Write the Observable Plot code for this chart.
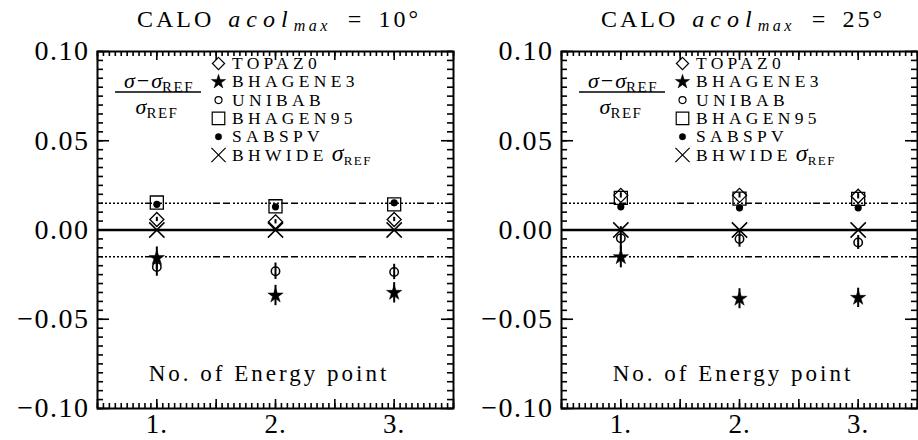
<!DOCTYPE html>
<html><head><meta charset="utf-8">
<script src="https://cdn.jsdelivr.net/npm/d3@7"></script>
<script src="https://cdn.jsdelivr.net/npm/@observablehq/plot@0.6"></script>
<style>
body{margin:0;background:#fff}
#wrap{position:relative;width:918px;height:440px;overflow:hidden}
.panel{position:absolute;top:0}
</style>
</head><body><div id="wrap"></div>
<script>
// ---- data ----
const energyPoints = [1, 2, 3];
const xTickLabels = ["1.", "2.", "3."];
const yMajorTicks = [-0.10, -0.05, 0.00, 0.05, 0.10];
const bandLevels = [-0.015, 0.015];
const generators = ["TOPAZ0", "BHAGENE3", "UNIBAB", "BHAGEN95", "SABSPV", "BHWIDE"];

// CALO acol_max = 10 deg
const topaz10 = [0.0059, 0.0046, 0.0059];
const topaz10Err = [0.0012, 0.0012, 0.0012];
const bhagene3_10 = [-0.0157, -0.0367, -0.0352];
const bhagene3_10Err = [0.0062, 0.0057, 0.0057];
const unibab10 = [-0.0207, -0.0231, -0.0235];
const unibab10Err = [0.0052, 0.0046, 0.0043];
const bhagen95_10 = [0.0154, 0.0133, 0.0144];
const sabspv10 = [0.0144, 0.0130, 0.0152];
const bhwide10 = [0, 0, 0];

// CALO acol_max = 25 deg
const topaz25 = [0.0194, 0.0194, 0.0189];
const topaz25Err = [0.0015, 0.0015, 0.0015];
const bhagene3_25 = [-0.0152, -0.0385, -0.0380];
const bhagene3_25Err = [0.0060, 0.0056, 0.0054];
const unibab25 = [-0.0046, -0.0050, -0.0070];
const unibab25Err = [0.0065, 0.0046, 0.0039];
const bhagen95_25 = [0.0180, 0.0176, 0.0174];
const sabspv25 = [0.0130, 0.0124, 0.0124];
const bhwide25 = [0, 0, 0];

const symbols = {TOPAZ0: "diamond2", BHAGENE3: "star", UNIBAB: "circle", BHAGEN95: "square2", SABSPV: "circle", BHWIDE: "times"};

const panels = [
  {acol: "10", left: 0, marginLeft: 97, marginRight: 6,
   series: {TOPAZ0: [topaz10, topaz10Err], BHAGENE3: [bhagene3_10, bhagene3_10Err], UNIBAB: [unibab10, unibab10Err],
            BHAGEN95: [bhagen95_10, null], SABSPV: [sabspv10, null], BHWIDE: [bhwide10, null]}},
  {acol: "25", left: 459, marginLeft: 102, marginRight: 1,
   series: {TOPAZ0: [topaz25, topaz25Err], BHAGENE3: [bhagene3_25, bhagene3_25Err], UNIBAB: [unibab25, unibab25Err],
            BHAGEN95: [bhagen95_25, null], SABSPV: [sabspv25, null], BHWIDE: [bhwide25, null]}}
];

const FONT = "Liberation Serif";
const fmt = d => (d < 0 ? "\u2212" : "") + Math.abs(d).toFixed(2);
const yMinor = d3.range(-20, 21).map(i => i * 0.005);
const xMinor = d3.range(10, 71).map(i => i * 0.05);
const xMajor = d3.range(1, 8).map(i => i * 0.5);

function rich(svg, x, y, anchor, segs, size, extra = {}) {
  const t = d3.select(svg).append("text")
    .attr("x", x).attr("y", y).attr("text-anchor", anchor)
    .attr("font-family", FONT).attr("font-size", size).attr("fill", "black");
  for (const [k, v] of Object.entries(extra)) t.attr(k, v);
  for (const s of segs) {
    const ts = t.append("tspan").text(s.t);
    if (s.italic) ts.attr("font-style", "italic");
    if (s.size) ts.attr("font-size", s.size);
    if (s.dy) ts.attr("dy", s.dy);
    if (s.dx) ts.attr("dx", s.dx);
    if (s.ls != null) ts.attr("letter-spacing", s.ls);
  }
  return t;
}

for (const p of panels) {
  const width = 459, height = 440, mt = 51, mb = 32;
  const fw = width - p.marginLeft - p.marginRight;
  const fh = height - mt - mb;
  const rows = [];
  for (const g of generators) {
    const [vals, errs] = p.series[g];
    energyPoints.forEach((x, i) => rows.push({gen: g, x, y: vals[i], err: errs ? errs[i] : 0}));
  }
  const byGen = g => rows.filter(r => r.gen === g);
  const tk = {stroke: "black", strokeWidth: 1.6};

  const legendMarks = generators.map((gen, i) =>
    Plot.dot([gen], {frameAnchor: "top-left", dx: 121, dy: 12 + i * 18.3, symbol: symbols[gen],
      r: gen === "SABSPV" ? 3.2 : gen === "UNIBAB" ? 3.5 : gen === "BHAGEN95" ? 8 : gen === "BHWIDE" ? 6.5 : gen === "BHAGENE3" ? 4.5 : 5.5,
      fill: (gen === "SABSPV" || gen === "BHAGENE3") ? "black" : "none",
      stroke: "black", strokeWidth: gen === "BHAGENE3" || gen === "SABSPV" ? 0.5 : 1.2}));

  const plot = Plot.plot({
    width, height,
    marginLeft: p.marginLeft, marginRight: p.marginRight, marginTop: mt, marginBottom: mb,
    style: {fontFamily: FONT, background: "white", overflow: "visible"},
    x: {domain: [0.5, 3.5], axis: null},
    y: {domain: [-0.1, 0.1], axis: null},
    marks: [
      Plot.ruleY([0], {stroke: "black", strokeWidth: 2.5}),
      Plot.ruleY(bandLevels, {stroke: "black", strokeWidth: 1.6,
        strokeDasharray: "2,2,2,2,2,2,2,2,2,2,2,2,2,2,2,2,2,2,2,2,2,2,2,2,7,3,7,3"}),
      Plot.ruleX(rows.filter(r => r.err > 0), {x: "x", y1: d => d.y - d.err, y2: d => d.y + d.err, stroke: "black", strokeWidth: 2}),
      Plot.dot(byGen("BHAGEN95"), {x: "x", y: "y", symbol: "square2", r: 8.3, fill: "none", stroke: "black", strokeWidth: 1.3}),
      Plot.dot(byGen("SABSPV"), {x: "x", y: "y", r: 3.6, fill: "black"}),
      Plot.dot(byGen("TOPAZ0"), {x: "x", y: "y", symbol: "diamond2", r: 6.3, fill: "none", stroke: "black", strokeWidth: 1.3}),
      Plot.dot(byGen("UNIBAB"), {x: "x", y: "y", symbol: "circle", r: 4.2, fill: "none", stroke: "black", strokeWidth: 1.5}),
      Plot.dot(byGen("BHAGENE3"), {x: "x", y: "y", symbol: "star", r: 4.8, fill: "black", stroke: "black", strokeWidth: 0.5}),
      Plot.dot(byGen("BHWIDE"), {x: "x", y: "y", symbol: "times", r: 7, fill: "none", stroke: "black", strokeWidth: 1.5}),
      Plot.frame({stroke: "black", strokeWidth: 2}),
      // inward ticks on all four sides
      Plot.tickY(yMinor, {y: d => d, insetRight: fw - 6, ...tk}),
      Plot.tickY(yMajorTicks, {y: d => d, insetRight: fw - 12, ...tk}),
      Plot.tickY(yMinor, {y: d => d, insetLeft: fw - 6, ...tk}),
      Plot.tickY(yMajorTicks, {y: d => d, insetLeft: fw - 12, ...tk}),
      Plot.tickX(xMinor, {x: d => d, insetTop: fh - 5, ...tk}),
      Plot.tickX(xMajor, {x: d => d, insetTop: fh - 9, ...tk}),
      Plot.tickX(xMinor, {x: d => d, insetBottom: fh - 5, ...tk}),
      Plot.tickX(xMajor, {x: d => d, insetBottom: fh - 9, ...tk}),
      // tick labels
      Plot.axisY({ticks: yMajorTicks, anchor: "left", tickSize: 0, tickPadding: 8, tickFormat: fmt, fontSize: 28, label: null}),
      Plot.axisX({ticks: energyPoints, anchor: "bottom", tickSize: 0, tickPadding: 5, tickFormat: (d, i) => xTickLabels[i], fontSize: 27, label: null}),
      ...legendMarks
    ]
  });
  d3.select(plot).selectAll("g[aria-label='y-axis tick label'] text").attr("letter-spacing", 1.5);
  d3.select(plot).selectAll("g[aria-label='x-axis tick label'] text").attr("letter-spacing", 1);

  const fx = p.marginLeft, cx = fx + fw / 2;
  // title
  rich(plot, cx + 4, 27, "middle", [
    {t: "CALO", ls: 3},
    {t: "acol", italic: true, dx: 14, ls: 6},
    {t: "max", italic: true, size: 16, dy: 4, ls: 3.5},
    {t: "=", dy: -4, dx: 17},
    {t: p.acol + "\u00B0", dx: 17, ls: 3}
  ], 24);
  // fraction
  rich(plot, fx + 62, 88, "middle", [
    {t: "\u03C3", italic: true},
    {t: "\u2212", dx: 2},
    {t: "\u03C3", italic: true, dx: 2},
    {t: "REF", size: 15, dy: 4, ls: 1.5}
  ], 22);
  d3.select(plot).append("line").attr("x1", fx + 18).attr("x2", fx + 104).attr("y1", 92).attr("y2", 92)
    .attr("stroke", "black").attr("stroke-width", 1.3);
  rich(plot, fx + 60, 114, "middle", [
    {t: "\u03C3", italic: true},
    {t: "REF", size: 15, dy: 4, ls: 1.5}
  ], 22);
  // legend text
  generators.forEach((g, i) => {
    const segs = [{t: g, ls: 4.3}];
    if (g === "BHWIDE") segs.push({t: "\u03C3", italic: true, size: 24, dx: 4}, {t: "REF", size: 13, dy: 4, ls: 1.5});
    rich(plot, fx + 135, 69 + i * 18.3, "start", segs, 17.5);
  });
  // x label inside
  rich(plot, cx - 6, 381, "middle", [{t: "No. of Energy point", ls: 3}], 23);

  plot.classList.add("panel");
  plot.style.left = p.left + "px";
  document.getElementById("wrap").appendChild(plot);
}
</script></body></html>
